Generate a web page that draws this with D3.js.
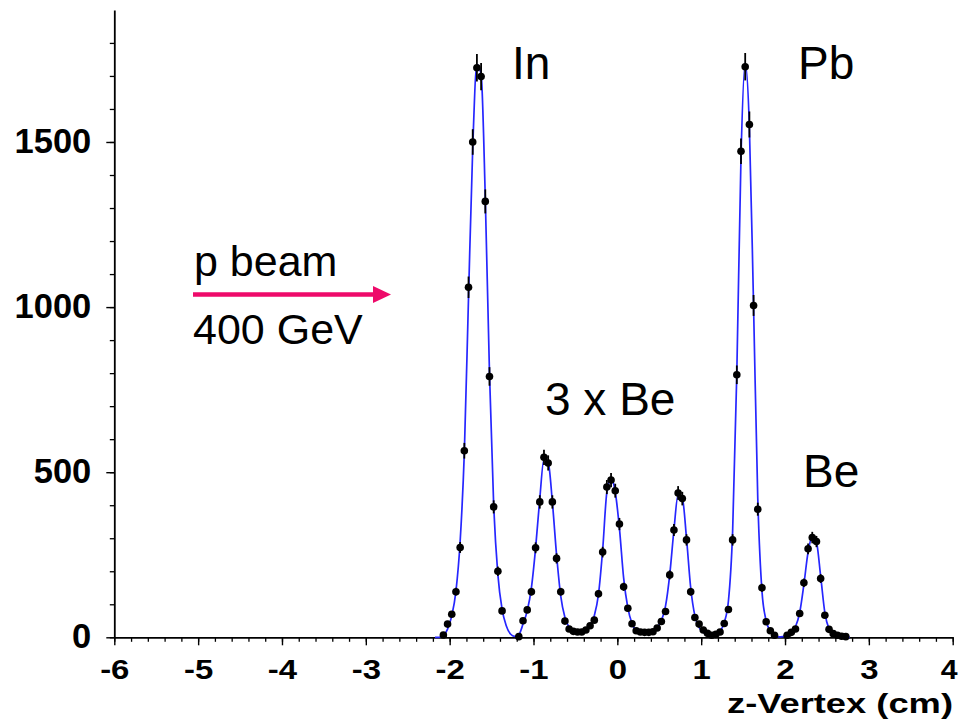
<!DOCTYPE html>
<html><head><meta charset="utf-8">
<script src="https://cdn.jsdelivr.net/npm/d3@7"></script>
<style>body{margin:0;background:#fff} svg{display:block}</style>
</head><body>
<svg id="chart" width="959" height="719"></svg>
<script>
// ---- data ----
const zVertex = [-2.075,-2.025,-1.975,-1.925,-1.875,-1.825,-1.775,-1.725,-1.675,-1.625,-1.575,-1.525,-1.475,-1.425,-1.375,
  -1.175,-1.125,-1.075,-1.025,-0.975,-0.925,-0.875,-0.825,-0.775,-0.725,-0.675,-0.625,-0.575,-0.525,-0.475,-0.425,-0.375,-0.325,-0.275,
  -0.225,-0.175,-0.125,-0.075,-0.025,0.025,0.075,0.125,0.175,0.225,0.275,0.325,0.375,0.425,0.475,0.525,0.575,
  0.625,0.675,0.725,0.775,0.825,0.875,0.925,0.975,1.025,1.075,1.125,1.175,1.225,1.275,1.325,
  1.375,1.425,1.475,1.525,1.575,1.625,1.675,1.725,1.775,1.825,1.875,
  2.025,2.075,2.125,2.175,2.225,2.275,2.325,2.375,2.425,2.475,2.525,2.575,2.625,2.675,2.725];
const counts = [7,40,70,138,272,565,1060,1500,1725,1698,1320,790,395,200,80,
  2,50,83,138,271,410,545,528,410,239,138,49,25,18,16,16,22,35,52,
  132,258,455,476,444,343,153,88,41,20,16,15,15,17,28,48,78,
  189,325,437,420,295,138,60,40,22,12,6,9,16,42,84,
  295,795,1472,1728,1553,1005,388,150,47,20,6,
  6,15,25,72,165,268,302,290,178,67,24,11,6,3,2];

const fitZ = [-2.175,-2.125,-2.075,-2.025,-1.975,-1.925,-1.875,-1.825,-1.775,-1.725,-1.675,-1.625,-1.575,-1.525,-1.475,-1.425,-1.375,-1.325,-1.275,-1.225,
  -1.175,-1.125,-1.075,-1.025,-0.975,-0.925,-0.875,-0.825,-0.775,-0.725,-0.675,-0.625,-0.575,-0.525,-0.475,-0.425,-0.375,-0.325,-0.275,
  -0.225,-0.175,-0.125,-0.075,-0.025,0.025,0.075,0.125,0.175,0.225,0.275,0.325,0.375,0.425,0.475,0.525,0.575,
  0.625,0.675,0.725,0.775,0.825,0.875,0.925,0.975,1.025,1.075,1.125,1.175,1.225,1.275,1.325,
  1.375,1.425,1.475,1.525,1.575,1.625,1.675,1.725,1.775,1.825,1.875,1.925,1.975,
  2.025,2.075,2.125,2.175,2.225,2.275,2.325,2.375,2.425,2.475,2.525,2.575,2.625,2.675,2.725,2.775];
const fitCounts = [0,0,5,25,65,140,290,560,1030,1480,1735,1705,1330,800,400,190,85,35,10,3,
  8,40,80,150,270,420,540,530,410,250,125,60,30,18,14,14,20,35,65,
  130,265,440,482,440,330,180,90,42,20,13,12,13,18,30,50,95,
  190,325,432,422,300,150,65,30,15,8,5,8,18,45,110,
  320,800,1455,1740,1545,1000,420,140,50,18,5,1,2,
  6,15,32,75,160,258,305,288,185,75,25,8,3,1,0,0];

const xMajorTicks = [-6,-5,-4,-3,-2,-1,0,1,2,3,4];
const xTickLabels = ["-6","-5","-4","-3","-2","-1","0","1","2","3","4"];
const yMajorTicks = [0,500,1000,1500];
const yTickLabels = ["0","500","1000","1500"];
const xTitle = "z-Vertex (cm)";
const targetLabels = ["In","3 x Be","Pb","Be"];
const beamLabels = ["p beam","400 GeV"];

// ---- drawing ----
const svg = d3.select("#chart");
const x = d3.scaleLinear().domain([-6,4]).range([114.3,952.7]);
const y = d3.scaleLinear().domain([0,1900]).range([637.3,9.9]);
const FONT = "'Liberation Sans', Arial, Helvetica, sans-serif";

// minor ticks
const xMinor = d3.range(-6,4.001,0.2).map(v=>+v.toFixed(2));
const yMinor = d3.range(0,1801,100);
svg.append("g").attr("transform","translate(0,637.3)")
  .call(d3.axisBottom(x).tickValues(xMinor).tickSize(4.5).tickSizeOuter(0).tickFormat(""))
  .call(g=>g.select(".domain").remove())
  .call(g=>g.selectAll("line").attr("stroke","#000").attr("stroke-width",1.3));
svg.append("g").attr("transform","translate(114.3,0)")
  .call(d3.axisLeft(y).tickValues(yMinor).tickSize(4.5).tickSizeOuter(0).tickFormat(""))
  .call(g=>g.select(".domain").remove())
  .call(g=>g.selectAll("line").attr("stroke","#000").attr("stroke-width",1.3));

// major axes
const xAxis = svg.append("g").attr("transform","translate(0,637.3)")
  .call(d3.axisBottom(x).tickValues(xMajorTicks).tickSize(8).tickSizeOuter(0).tickPadding(15)
    .tickFormat((d,i)=>xTickLabels[i]));
xAxis.select(".domain").attr("stroke","#000").attr("stroke-width",1.8);
xAxis.selectAll("line").attr("stroke","#000").attr("stroke-width",1.4);
xAxis.selectAll("text").attr("fill","#000").style("font-family",FONT).style("font-size","27px")
  .style("font-weight","bold")
  .attr("transform",(d,i)=> i===xMajorTicks.length-1 ? "translate(-4,0) scale(1.12,1)" : "scale(1.22,1)");

const yAxis = svg.append("g").attr("transform","translate(114.3,0)")
  .call(d3.axisLeft(y).tickValues(yMajorTicks).tickSize(8).tickSizeOuter(0).tickPadding(15)
    .tickFormat((d,i)=>yTickLabels[i]));
yAxis.select(".domain").attr("stroke","#000").attr("stroke-width",1.8);
yAxis.selectAll("line").attr("stroke","#000").attr("stroke-width",1.4);
yAxis.selectAll("text").attr("fill","#000").style("font-family",FONT).style("font-size","34.5px")
  .style("font-weight","bold").attr("dy","0.3em");

svg.append("text").attr("x",953).attr("y",713).attr("text-anchor","end")
  .attr("textLength",226).attr("lengthAdjust","spacingAndGlyphs")
  .style("font-family",FONT).style("font-size","27px").style("font-weight","bold").text(xTitle);

// fit curve
const fitData = fitZ.map((z,i)=>[z,fitCounts[i]]);
svg.append("path").datum(fitData)
  .attr("d", d3.line().x(d=>x(d[0])).y(d=>y(d[1])).curve(d3.curveMonotoneX))
  .attr("fill","none").attr("stroke","#2626ff").attr("stroke-width",1.7);

// data points with errors
const pts = zVertex.map((z,i)=>({z, v:counts[i]}));
const pg = svg.append("g");
pg.selectAll("line.err").data(pts).join("line").attr("class","err")
  .attr("x1",d=>x(d.z)).attr("x2",d=>x(d.z))
  .attr("y1",d=>y(d.v+Math.sqrt(d.v))).attr("y2",d=>y(Math.max(0,d.v-Math.sqrt(d.v))))
  .attr("stroke","#000").attr("stroke-width",1.8);
pg.selectAll("circle").data(pts).join("circle")
  .attr("cx",d=>x(d.z)).attr("cy",d=>y(d.v)).attr("r",3.8).attr("fill","#000");

// annotations
const ann = svg.append("g").style("font-family",FONT).attr("fill","#000");
ann.append("text").attr("x",512).attr("y",79).style("font-size","46px").text(targetLabels[0]);
ann.append("text").attr("x",545).attr("y",415).style("font-size","46px").text(targetLabels[1]);
ann.append("text").attr("x",798).attr("y",79).style("font-size","46px").text(targetLabels[2]);
ann.append("text").attr("x",803).attr("y",487).style("font-size","46px").text(targetLabels[3]);
ann.append("text").attr("x",194).attr("y",276).style("font-size","43px").text(beamLabels[0]);
ann.append("text").attr("x",193).attr("y",344).style("font-size","43px").text(beamLabels[1]);

// beam arrow
svg.append("line").attr("x1",193).attr("x2",376).attr("y1",294.5).attr("y2",294.5)
  .attr("stroke","#ee0a6a").attr("stroke-width",4.5);
svg.append("path").attr("d","M373,286 L391,294.5 L373,303 Z").attr("fill","#ee0a6a");
</script>
</body></html>
